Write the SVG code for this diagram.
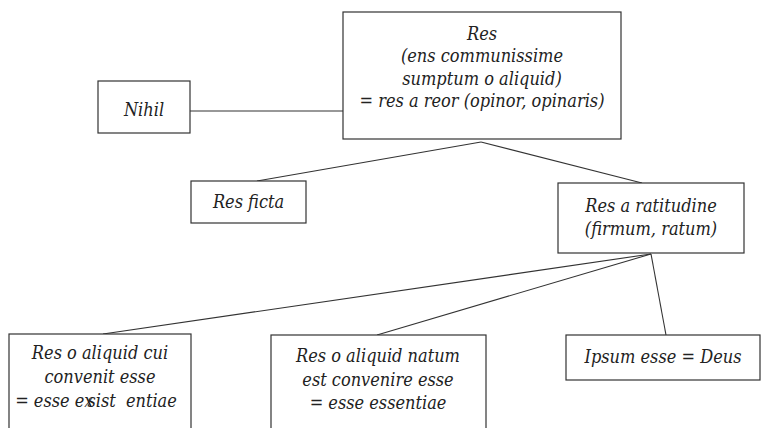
<svg xmlns="http://www.w3.org/2000/svg" width="761" height="428" viewBox="0 0 761 428">
<style>
rect.box{fill:#fff;stroke:#333;stroke-width:1.2}
line.c{stroke:#333;stroke-width:1.1}
text{font-family:'DejaVu Serif Condensed','DejaVu Serif',serif;font-style:italic;font-size:18px;fill:#222;text-anchor:middle}
</style>
<rect width="761" height="428" fill="#fff"/>
<g id="connectors">
<line class="c" x1="190" y1="111" x2="343" y2="111"/>
<line class="c" x1="481" y1="142" x2="257" y2="181"/>
<line class="c" x1="481" y1="142" x2="642" y2="183"/>
<line class="c" x1="651" y1="254" x2="103" y2="334"/>
<line class="c" x1="651" y1="254" x2="377" y2="335"/>
<line class="c" x1="651" y1="254" x2="666" y2="335"/>
</g>
<g id="res">
<rect class="box" x="343" y="12" width="278" height="127"/>
<text x="482" y="39.5">Res</text>
<text x="482" y="62">(ens communissime</text>
<text x="482" y="84.5">sumptum o aliquid)</text>
<text x="482" y="107">= res a reor (opinor, opinaris)</text>
</g>
<g id="nihil">
<rect class="box" x="98" y="81" width="92" height="52"/>
<text x="144" y="116">Nihil</text>
</g>
<g id="res-ficta">
<rect class="box" x="191" y="181" width="115" height="42"/>
<text x="248.5" y="208">Res ficta</text>
</g>
<g id="res-ratitudine">
<rect class="box" x="558" y="183" width="186" height="70"/>
<text x="651" y="212">Res a ratitudine</text>
<text x="651" y="235">(firmum, ratum)</text>
</g>
<g id="res-cui-convenit">
<rect class="box" x="9" y="334" width="182" height="110"/>
<text x="100" y="359">Res o aliquid cui</text>
<text x="100" y="383">convenit esse</text>
<text x="96" y="407">= esse ex<tspan dx="-6">s</tspan>ist <tspan dx="5">entiae</tspan></text>
</g>
<g id="res-natum">
<rect class="box" x="271" y="335" width="215" height="110"/>
<text x="378" y="362">Res o aliquid natum</text>
<text x="378" y="386">est convenire esse</text>
<text x="378" y="409">= esse essentiae</text>
</g>
<g id="ipsum-esse">
<rect class="box" x="566" y="335" width="194" height="45"/>
<text x="663" y="363">Ipsum esse = Deus</text>
</g>
</svg>
